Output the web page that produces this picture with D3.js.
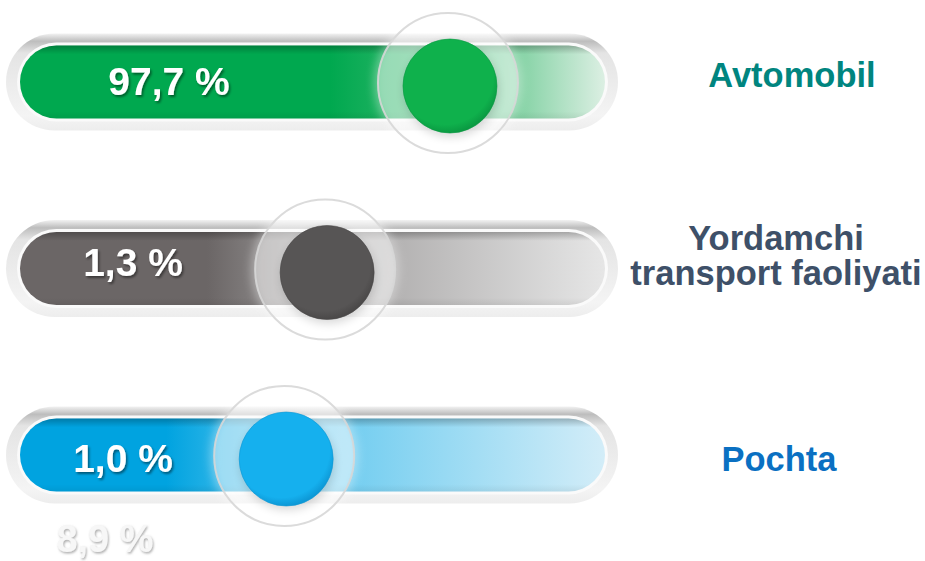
<!DOCTYPE html>
<html>
<head>
<meta charset="utf-8">
<script src="https://cdn.jsdelivr.net/npm/d3@7"></script>
<style>
  body { margin: 0; background: #fff; }
  svg { display: block; font-family: "Liberation Sans", Arial, sans-serif; }
</style>
</head>
<body>
<div id="chart"></div>
<script>
// data
let categories = ["Avtomobil", "Yordamchi transport faoliyati", "Pochta"];
let shares = [97.7, 1.3, 1.0];
let sliderPos = [73.5, 52.5, 45.5];   // where the knob sits on each track (0-100)
let extraLabel = "8,9 %";

// look
let width = 925;
let height = 561;
let palette = [
  { dark: "#00a84f", mid: "#3dbb72", pale: "#dcefe3", knob: "#0fb14c", knobDark: "#0a9a42", label: "#00857f" },
  { dark: "#6b6666", mid: "#a3a1a1", pale: "#e6e6e6", knob: "#575555", knobDark: "#4a4848", label: "#3e5068" },
  { dark: "#00a3e0", mid: "#5cc6ee", pale: "#d3edf8", knob: "#15b0ee", knobDark: "#0d98d6", label: "#0a70c2" }
];
let labelLines = [["Avtomobil"], ["Yordamchi", "transport faoliyati"], ["Pochta"]];
let labelX = [792, 776, 779];
let labelDy = [5, -1, 16];
let valueX = [169, 133, 123];
let valueDy = [13, 7, 17];

let x = d3.scaleLinear().domain([0, 100]).range([20, 605]);
let y = d3.scalePoint().domain(categories).range([82, 455]);

let outerH = 97, innerH = 73, knobR = 47, haloR = 70;

let svg = d3.select("#chart")
  .append("svg")
  .attr("width", width)
  .attr("height", height);

let defs = svg.append("defs");

// track rim gradient
let rim = defs.append("linearGradient").attr("id", "rim").attr("x1", 0).attr("y1", 0).attr("x2", 0).attr("y2", 1);
rim.append("stop").attr("offset", "0").attr("stop-color", "#f2f2f2");
rim.append("stop").attr("offset", "0.08").attr("stop-color", "#bdbdbd");
rim.append("stop").attr("offset", "0.2").attr("stop-color", "#e4e4e4");
rim.append("stop").attr("offset", "0.85").attr("stop-color", "#f4f4f4");
rim.append("stop").attr("offset", "1").attr("stop-color", "#ededed");

let soft = defs.append("filter").attr("id", "soft").attr("x", "-30%").attr("y", "-30%").attr("width", "160%").attr("height", "160%");
soft.append("feGaussianBlur").attr("stdDeviation", 5);

let txtShadow = defs.append("filter").attr("id", "txtShadow");
txtShadow.append("feDropShadow").attr("dx", 1.5).attr("dy", 2).attr("stdDeviation", 1).attr("flood-color", "#000").attr("flood-opacity", 0.45);

let ghostShadow = defs.append("filter").attr("id", "ghostShadow");
ghostShadow.append("feDropShadow").attr("dx", 1).attr("dy", 1.5).attr("stdDeviation", 1).attr("flood-color", "#777").attr("flood-opacity", 0.6);

let topShade = defs.append("linearGradient").attr("id", "topShade").attr("x1", 0).attr("y1", 0).attr("x2", 0).attr("y2", 1);
topShade.append("stop").attr("offset", "0").attr("stop-color", "#000").attr("stop-opacity", 0.25);
topShade.append("stop").attr("offset", "0.12").attr("stop-color", "#000").attr("stop-opacity", 0);
topShade.append("stop").attr("offset", "0.9").attr("stop-color", "#000").attr("stop-opacity", 0);
topShade.append("stop").attr("offset", "1").attr("stop-color", "#000").attr("stop-opacity", 0.06);

categories.forEach(function (c, i) {
  let p = palette[i];
  let k = x(sliderPos[i]);
  let f0 = (k - 120 - x(0)) / (x(100) - x(0));
  let g = defs.append("linearGradient").attr("id", "fill" + i);
  g.append("stop").attr("offset", 0).attr("stop-color", p.dark);
  g.append("stop").attr("offset", Math.max(f0, 0.05)).attr("stop-color", p.dark);
  g.append("stop").attr("offset", (k - x(0)) / (x(100) - x(0))).attr("stop-color", p.mid);
  g.append("stop").attr("offset", 1).attr("stop-color", p.pale);

  let kg = defs.append("radialGradient").attr("id", "knob" + i)
    .attr("cx", "0.45").attr("cy", "0.4").attr("r", "0.6");
  kg.append("stop").attr("offset", 0).attr("stop-color", p.knob);
  kg.append("stop").attr("offset", 0.85).attr("stop-color", p.knob);
  kg.append("stop").attr("offset", 1).attr("stop-color", p.knobDark);
});

let rows = svg.selectAll("g.row")
  .data(categories)
  .join("g")
  .attr("class", "row")
  .attr("transform", function (d) { return "translate(0," + y(d) + ")"; });

// outer rim
rows.append("rect")
  .attr("x", x(0) - 14)
  .attr("y", -outerH / 2)
  .attr("width", x(100) - x(0) + 27)
  .attr("height", outerH)
  .attr("rx", outerH / 2)
  .attr("fill", "url(#rim)");

// white ring
rows.append("rect")
  .attr("x", x(0) - 3)
  .attr("y", -innerH / 2 - 3)
  .attr("width", x(100) - x(0) + 6)
  .attr("height", innerH + 6)
  .attr("rx", innerH / 2 + 3)
  .attr("fill", "#fafafa");

// coloured fill
rows.append("rect")
  .attr("x", x(0))
  .attr("y", -innerH / 2)
  .attr("width", x(100) - x(0))
  .attr("height", innerH)
  .attr("rx", innerH / 2)
  .attr("fill", function (d, i) { return "url(#fill" + i + ")"; });

rows.append("rect")
  .attr("x", x(0))
  .attr("y", -innerH / 2)
  .attr("width", x(100) - x(0))
  .attr("height", innerH)
  .attr("rx", innerH / 2)
  .attr("fill", "url(#topShade)");

// halo
rows.append("circle")
  .attr("cx", function (d, i) { return x(sliderPos[i]) - 2; })
  .attr("cy", 1)
  .attr("r", haloR + 4)
  .attr("fill", "#fff")
  .attr("opacity", 0.35)
  .attr("filter", "url(#soft)");

rows.append("circle")
  .attr("cx", function (d, i) { return x(sliderPos[i]) - 2; })
  .attr("cy", 1)
  .attr("r", haloR)
  .attr("fill", "rgba(255,255,255,0.3)")
  .attr("stroke", "rgba(215,215,215,0.9)")
  .attr("stroke-width", 2);

// knob shadow
rows.append("circle")
  .attr("cx", function (d, i) { return x(sliderPos[i]) + 1; })
  .attr("cy", 8)
  .attr("r", knobR)
  .attr("fill", "#000")
  .attr("opacity", 0.15)
  .attr("filter", "url(#soft)");

// knob
rows.append("circle")
  .attr("cx", function (d, i) { return x(sliderPos[i]); })
  .attr("cy", 4)
  .attr("r", knobR)
  .attr("fill", function (d, i) { return "url(#knob" + i + ")"; })
  .attr("stroke", function (d, i) { return palette[i].knobDark; })
  .attr("stroke-opacity", 0.6)
  .attr("stroke-width", 1);

// value text
rows.append("text")
  .attr("x", function (d, i) { return valueX[i]; })
  .attr("y", function (d, i) { return valueDy[i]; })
  .attr("text-anchor", "middle")
  .attr("font-size", 39)
  .attr("font-weight", "bold")
  .attr("fill", "#fff")
  .attr("filter", "url(#txtShadow)")
  .text(function (d, i) { return d3.format(".1f")(shares[i]).replace(".", ",") + " %"; });

// category labels
rows.append("text")
  .attr("text-anchor", "middle")
  .attr("font-size", 34.5)
  .attr("font-weight", "bold")
  .attr("fill", function (d, i) { return palette[i].label; })
  .each(function (d, i) {
    let lines = labelLines[i];
    let t = d3.select(this);
    lines.forEach(function (l, j) {
      t.append("tspan")
        .attr("x", labelX[i])
        .attr("y", labelDy[i] + (j - (lines.length - 1) / 2) * 35)
        .text(l);
    });
  });

// stray faded value under the last bar
svg.append("text")
  .attr("x", 105)
  .attr("y", 552)
  .attr("text-anchor", "middle")
  .attr("font-size", 38)
  .attr("font-weight", "bold")
  .attr("fill", "#f7f7f7")
  .attr("filter", "url(#ghostShadow)")
  .text(extraLabel);
</script>
</body>
</html>
